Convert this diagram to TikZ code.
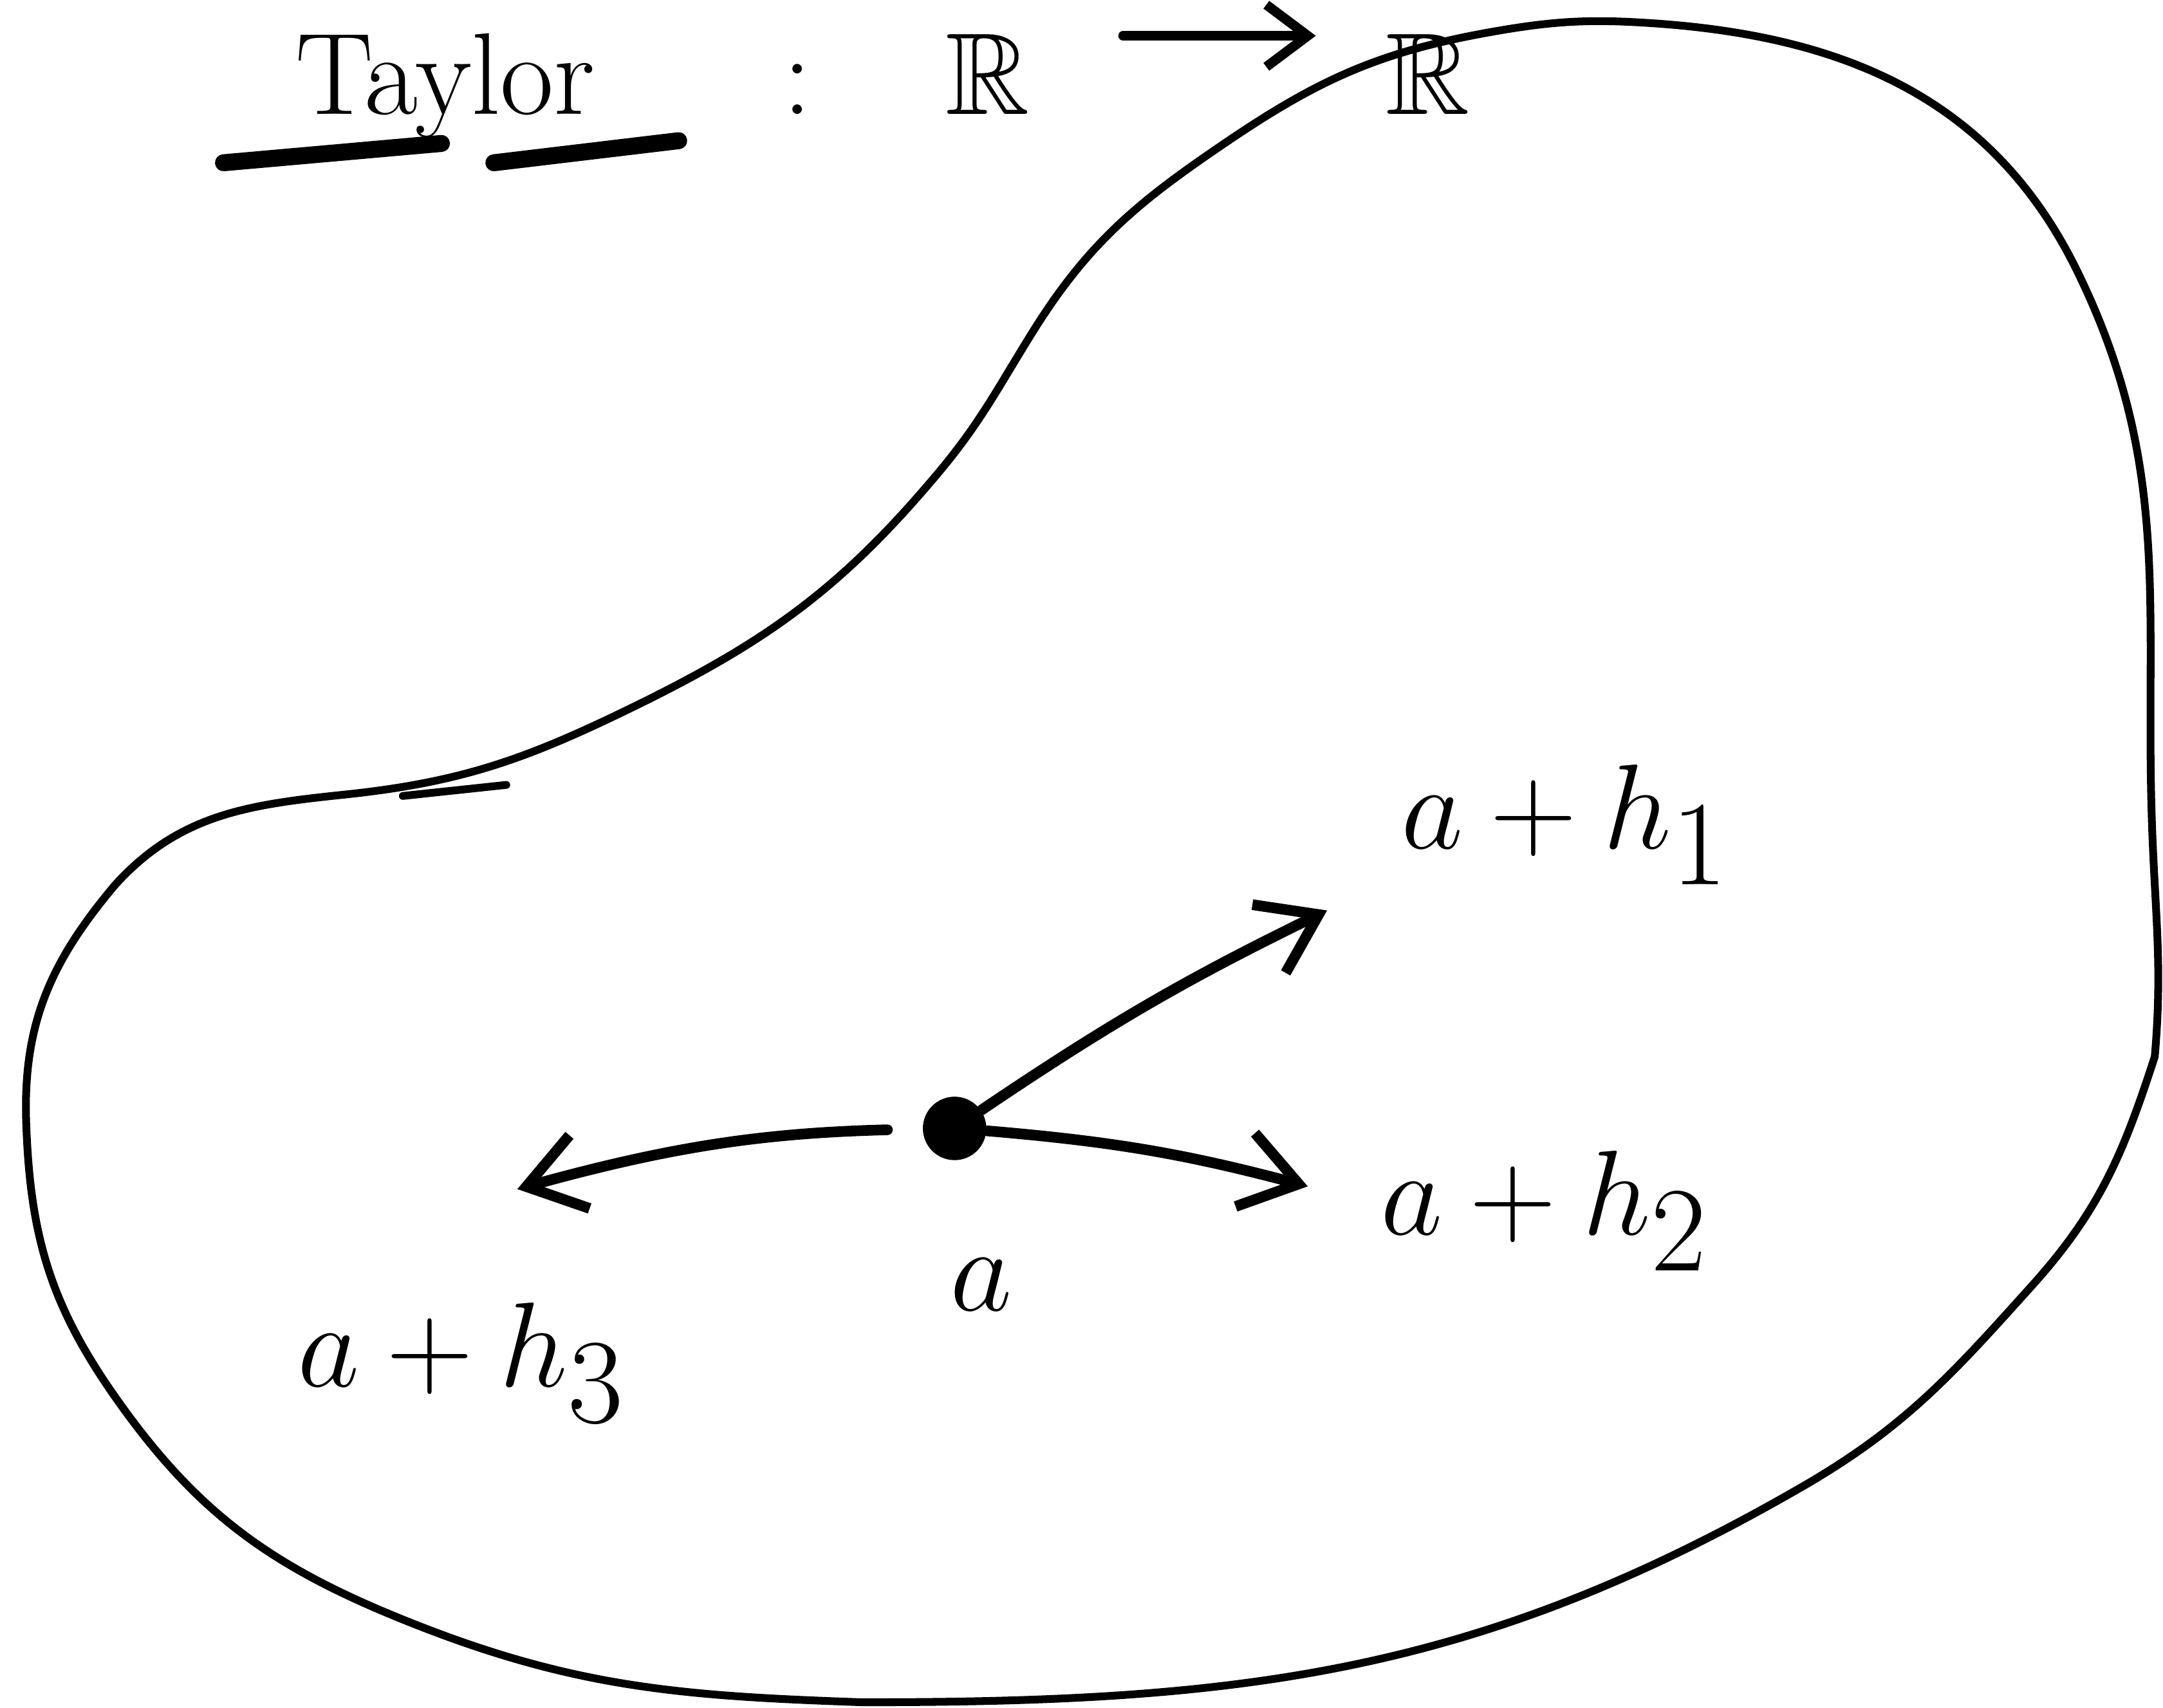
\documentclass[tikz,border=0pt]{standalone}
\usepackage{amssymb}
\usetikzlibrary{arrows.meta}

\begin{document}
\begin{tikzpicture}[
  outline/.style={line width=1.6pt,line join=round,line cap=round},
  vec/.style={line width=2.2pt,line cap=round,
    -{Straight Barb[length=4mm,width=5.5mm,line width=2.2pt]}},
  lbl/.style={anchor=base west,inner sep=0pt,font=\fontsize{34}{40}\selectfont},
  ttl/.style={anchor=base,inner sep=0pt,font=\fontsize{24}{28}\selectfont}]
  \useasboundingbox (0,0) rectangle (15.68,12.38);
  % the region
  \draw[outline] (12.00,12.21)
    to[out=-4,in=116] (15.06,10.41)
    to[out=-64,in=92] (15.60,6.40)
    to[out=-88,in=85] (15.62,4.72)
    to[out=-108,in=48] (14.73,3.06)
    to[out=-132,in=30] (13.06,1.60)
    to[out=-150,in=0] (6.25,0.04)
    to[out=178,in=-22] (2.92,0.64)
    to[out=158,in=-55] (0.83,2.26)
    to[out=125,in=-88] (0.19,4.24)
    to[out=92,in=-130] (0.83,5.96)
    to[out=48,in=-174] (2.50,6.62)
    to[out=6,in=-154] (4.58,7.25)
    to[out=26,in=-130] (6.80,8.95)
    to[out=50,in=-122] (7.49,9.98)
    to[out=58,in=-146] (8.92,11.37)
    to[out=34,in=-170] (10.82,12.15)
    to[out=10,in=176] (12.00,12.21);
  \draw[outline] (2.92,6.61) -- (3.67,6.69);
  % title
  \node[ttl] (title) at (3.23,11.55) {Taylor};
  \node[ttl] (colon) at (5.78,11.55) {:};
  \node[ttl] (dom) at (7.16,11.55) {$\mathbb{R}$};
  \node[ttl] (cod) at (10.35,11.55) {$\mathbb{R}$};
  \draw[line width=2pt,line cap=round,shorten <=6.7mm,shorten >=5mm,
    -{Straight Barb[length=3mm,width=4.5mm,line width=2pt]}]
    ([yshift=2.8mm]dom.east) -- ([yshift=2.8mm]cod.west);
  \draw[line width=3.5pt,line cap=round] (1.62,11.20) -- (3.20,11.34);
  \draw[line width=3.5pt,line cap=round] (3.58,11.20) -- (4.92,11.36);
  % the point and its steps
  \node[circle,fill,inner sep=0pt,minimum size=4.6mm] (a) at (6.92,4.20) {};
  \coordinate (tip1) at (9.62,5.78);
  \coordinate (tip2) at (9.48,3.78);
  \coordinate (tip3) at (3.75,3.76);
  \draw[vec] (a) to[bend left=4] (tip1);
  \draw[vec] (a) to[bend left=5] (tip2);
  \draw[vec,shorten <=2.5mm] (a) to[bend right=7] (tip3);
  % labels
  \node[lbl] (ah1) at (10.15,6.23) {$a+h_1$};
  \node[lbl] (ah2) at (10.00,3.43) {$a+h_2$};
  \node[lbl] (alab) at (6.88,2.88) {$a$};
  \node[lbl] (ah3) at (2.15,2.33) {$a+h_3$};
\end{tikzpicture}
\end{document}
